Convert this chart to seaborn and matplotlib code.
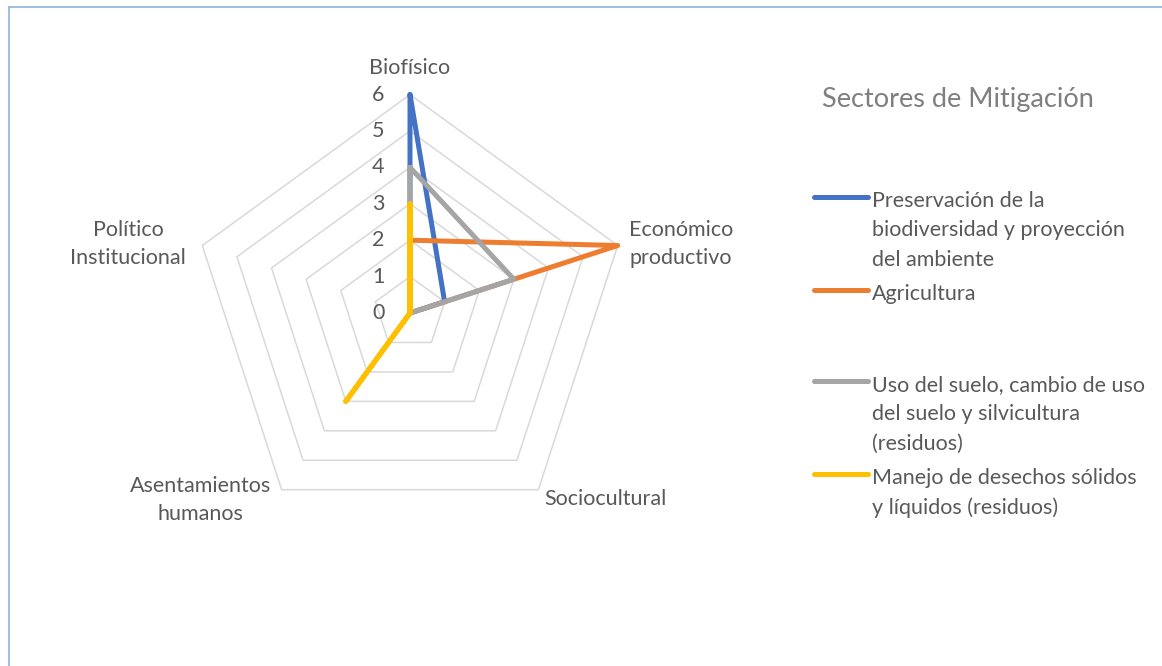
import numpy as np
import pandas as pd
import matplotlib
matplotlib.use("Agg")
import matplotlib.pyplot as plt
from matplotlib.lines import Line2D
import seaborn as sns

# datos
ejes = ["Biofísico", "Económico\nproductivo", "Sociocultural", "Asentamientos\nhumanos", "Político\nInstitucional"]
series = [
    "Preservación de la\nbiodiversidad y proyección\ndel ambiente",
    "Agricultura",
    "Uso del suelo, cambio de uso\ndel suelo y silvicultura\n(residuos)",
    "Manejo de desechos sólidos\ny líquidos (residuos)",
]
preservacion = [6, 1, 0, 0, 0]
agricultura = [2, 6, 0, 0, 0]
uso_suelo = [4, 3, 0, 0, 0]
desechos = [3, 0, 0, 3, 0]
ticks = [0, 1, 2, 3, 4, 5, 6]
colores = ["#4472C4", "#ED7D31", "#A5A5A5", "#FFC000"]

sns.set_style("white")
plt.rcParams["font.family"] = ["Lato", "DejaVu Sans"]
gris_texto = "#595959"
fs = 15.5

W, H = 1162, 666
cx, cy, esc = 410, 313, 36.4   # centro del radar en pixeles y pixeles por unidad

angulos = np.deg2rad(90 - 72 * np.arange(5))

filas = []
for nombre, vals in zip(series, [preservacion, agricultura, uso_suelo, desechos]):
    v = list(vals) + [vals[0]]
    a = list(angulos) + [angulos[0]]
    for i, (r, t) in enumerate(zip(v, a)):
        filas.append({"serie": nombre, "orden": i, "x": r * np.cos(t), "y": r * np.sin(t)})
df = pd.DataFrame(filas)

fig = plt.figure(figsize=(W / 100, H / 100), dpi=100)
ax = fig.add_axes([0, 0, 1, 1])
ax.set_xlim(-cx / esc, (W - cx) / esc)
ax.set_ylim(-(H - cy) / esc, cy / esc)
ax.axis("off")

# rejilla pentagonal
for r in ticks[1:]:
    gx = list(r * np.cos(angulos)) + [r * np.cos(angulos[0])]
    gy = list(r * np.sin(angulos)) + [r * np.sin(angulos[0])]
    ax.plot(gx, gy, color="#D9D9D9", lw=1.1, zorder=1)

sns.lineplot(data=df, x="x", y="y", hue="serie", hue_order=series, palette=colores,
             sort=False, estimator=None, units="serie", lw=3.6, legend=False, ax=ax,
             solid_joinstyle="round", solid_capstyle="round", zorder=3)

# etiquetas de escala
for t in ticks:
    ax.text(-0.7, t, str(t), ha="right", va="center", fontsize=fs, color=gris_texto)

# etiquetas de ejes
rmax = 6
ls = 1.5
ax.text(0, rmax + 0.45, ejes[0], ha="center", va="bottom", fontsize=fs, color=gris_texto)
ax.text(rmax * np.cos(angulos[1]) + 0.3, rmax * np.sin(angulos[1]) + 0.05, ejes[1],
        ha="left", va="center", fontsize=fs, color=gris_texto, multialignment="center", linespacing=ls)
ax.text(rmax * np.cos(angulos[2]) + 0.15, rmax * np.sin(angulos[2]) - 0.25, ejes[2],
        ha="left", va="center", fontsize=fs, color=gris_texto)
ax.text(rmax * np.cos(angulos[3]) - 0.3, rmax * np.sin(angulos[3]) - 0.27, ejes[3],
        ha="right", va="center", fontsize=fs, color=gris_texto, multialignment="center", linespacing=ls)
ax.text(rmax * np.cos(angulos[4]) - 0.45, rmax * np.sin(angulos[4]) + 0.05, ejes[4],
        ha="right", va="center", fontsize=fs, color=gris_texto, multialignment="center", linespacing=ls)

# leyenda
fig.text(822 / W, 1 - 99 / H, "Sectores de Mitigación", ha="left", va="center",
         fontsize=19.5, color="#7F7F7F")
pos_y = [197, 290, 381, 474]
for nombre, col, py in zip(series, colores, pos_y):
    y = 1 - py / H
    fig.add_artist(Line2D([814 / W, 868 / W], [y, y], color=col, lw=3.6,
                          solid_capstyle="round", transform=fig.transFigure))
    fig.text(872 / W, 1 - (py - 6) / H, nombre, ha="left", va="top", fontsize=fs,
             color=gris_texto, linespacing=1.58)

# marco
marco = "#8DB3E2"
fig.add_artist(Line2D([9 / W, 1], [1 - 7 / H, 1 - 7 / H], color=marco, lw=1.2, transform=fig.transFigure))
fig.add_artist(Line2D([9 / W, 9 / W], [0, 1 - 7 / H], color=marco, lw=1.2, transform=fig.transFigure))

fig.savefig("out.png", dpi=100)
